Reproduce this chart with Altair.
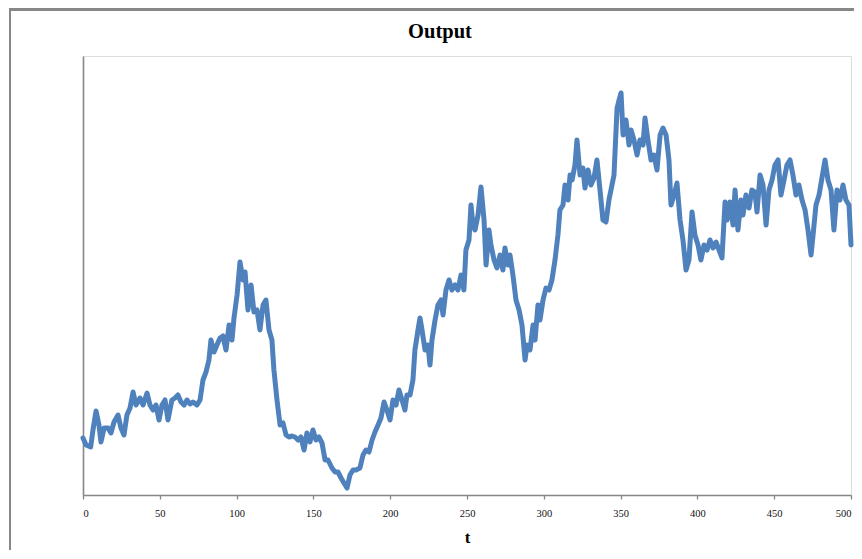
import altair as alt
import pandas as pd

t = [0,2,5,6.5,8.5,10.4,11.7,13.7,16.3,18.2,20.2,22.8,24.7,26.7,28.6,30.6,32.6,34.5,37.1,39.1,41.7,43.6,45.6,47.5,49.5,51.4,53.4,55.3,57.9,59.9,61.8,63.8,65.8,67.7,69.7,71.6,74.2,76.2,78.1,80.1,82.0,83.3,85.3,87.2,89.2,91.1,93.1,95.1,97.0,98.3,100.3,102.2,104.2,105.5,107.4,109.4,111.3,113.3,115.2,117.2,119.1,121.1,123.0,124.3,126.3,128.3,130.2,132.2,134.1,136.1,138.0,140.0,141.9,143.9,145.8,147.8,149.7,151.7,153.6,155.6,157.6,159.5,162.1,164.1,166.0,168.0,169.9,171.9,173.8,175.8,177.7,180.3,182.3,184.2,186.2,188.2,190.1,192.1,194.0,196.0,197.9,199.9,201.8,203.8,205.7,207.7,209.6,210.9,212.9,214.8,216.1,218.1,219.4,220.7,222.7,224.6,225.9,227.2,229.2,231.1,233.1,234.4,236.3,238.3,240.2,242.2,244.1,246.1,248.0,249.3,251.3,252.6,253.9,255.2,257.2,259.1,261.1,262.4,264.3,265.6,267.6,269.5,271.5,273.4,274.7,276.7,278.0,279.9,281.9,283.9,285.8,287.8,289.1,291.0,293.0,294.3,296.2,297.5,299.5,301.4,303.4,305.3,307.3,309.2,310.5,312.5,313.8,315.8,317.1,318.4,320.3,321.6,323.6,325.5,326.8,328.8,330.7,332.7,334.6,336.6,338.5,340.5,342.4,344.4,345.7,347.7,349.0,350.3,351.6,353.5,355.5,356.8,358.7,360.7,362.6,364.6,365.9,367.8,369.8,371.7,373.7,375.7,377.6,379.6,381.5,382.8,384.8,386.7,388.7,390.6,392.6,394.5,396.5,398.4,400.4,402.3,404.3,406.3,408.2,410.2,412.1,414.1,416.0,418.0,419.3,421.2,423.2,424.5,426.4,428.4,429.7,431.6,433.6,435.5,437.5,438.8,440.8,442.7,444.7,446.6,448.6,450.5,452.5,454.4,456.4,458.3,460.3,462.2,464.2,466.1,468.1,470.1,472.0,474.0,475.3,477.2,479.2,481.1,483.1,485.0,487.0,488.9,490.9,492.8,494.8,496.7,498.7,500]

output = [55,48,46,63,82,68,51,65,65,60,71,78,65,58,78,85,101,88,95,88,100,88,83,88,73,88,93,73,93,95,98,91,88,93,89,91,88,93,113,121,133,153,141,148,155,157,143,168,153,175,198,231,213,221,183,208,181,183,163,188,193,163,153,123,93,68,70,58,56,57,56,53,56,43,60,51,63,53,56,50,33,33,25,21,21,15,10,5,18,23,23,25,38,43,41,53,61,68,75,91,83,73,93,88,103,93,83,98,98,113,143,163,175,163,143,148,128,153,173,188,193,178,203,213,203,208,203,218,203,243,253,288,268,263,278,306,273,228,263,248,233,225,238,223,245,228,238,218,193,183,168,133,148,143,168,153,188,173,193,205,203,213,233,258,283,288,308,293,318,313,328,353,318,325,305,323,308,315,333,303,273,271,293,308,318,385,393,400,358,373,348,363,353,338,353,348,375,353,333,338,323,358,365,358,333,288,298,310,273,253,223,233,281,258,248,233,248,243,253,245,251,243,235,291,273,291,268,303,263,293,278,298,285,303,301,281,318,308,268,303,313,328,333,298,313,328,333,318,298,308,293,283,263,238,258,288,298,315,333,313,303,263,303,293,308,293,288,248]

n = min(len(t), len(output))
df = pd.DataFrame({"t": t[:n], "output": output[:n]})

W, H = 768, 439
GRAY = "#878787"

line = alt.Chart(df).mark_line(
    color="#4F81BD", strokeWidth=5, strokeJoin="round", strokeCap="round"
).encode(
    x=alt.X("t:Q", scale=alt.Scale(domain=[0, 500], nice=False, zero=False),
            axis=alt.Axis(values=list(range(0, 501, 50)), title="t", grid=False,
                          domainColor=GRAY, domainWidth=1.6, tickColor=GRAY,
                          tickWidth=1.3, tickSize=4, labelFont="Liberation Serif",
                          labelFontSize=10.5, labelColor="#111111", labelPadding=9,
                          titleFont="Liberation Serif", titleFontSize=17,
                          titleFontWeight="bold", titleColor="#000000", titlePadding=11)),
    y=alt.Y("output:Q", scale=alt.Scale(domain=[-2, 437], nice=False, zero=False),
            axis=alt.Axis(title=None, labels=False, ticks=False, grid=False,
                          domainColor=GRAY, domainWidth=1.6)),
)

frame = alt.Chart(df).mark_rect(
    filled=False, stroke=GRAY, strokeWidth=2
).encode(
    x=alt.value(-73), x2=alt.value(W + 40), y=alt.value(-46.5), y2=alt.value(H + 80)
)

chart = alt.layer(frame, line).properties(
    width=W, height=H,
    title=alt.TitleParams("Output", font="Liberation Serif", fontSize=20.5,
                          fontWeight="bold", color="#000000", anchor="middle",
                          dx=-27, offset=-50, baseline="alphabetic"),
    autosize=alt.AutoSizeParams(type="none"),
    padding={"left": 75, "top": 48, "right": 3, "bottom": 55},
).configure_view(stroke="transparent", strokeWidth=0).configure(background="#ffffff")

chart.save("out.html", embed_options={"renderer": "svg", "actions": False})
